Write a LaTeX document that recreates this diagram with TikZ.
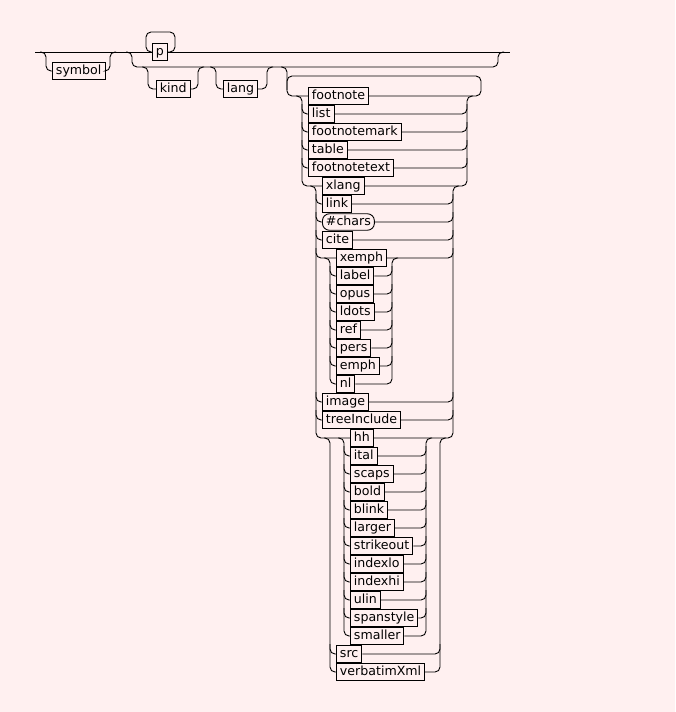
\documentclass[tikz,border=0pt]{standalone}
\usepackage{fontspec}
\setmainfont{DejaVu Sans}
\definecolor{bg}{HTML}{FFF0F0}

\begin{document}
\begin{tikzpicture}[x=1pt, y=-1pt,
    rail/.style={line width=0.9pt, rounded corners=5pt},
    elem/.style={draw, line width=0.9pt, fill=bg, anchor=west, inner xsep=3.5pt, inner ysep=2pt,
      text height=9.5pt, text depth=3pt, font=\fontsize{12.6}{14}\selectfont},
    pcdata/.style={elem, rounded corners=7pt}]
      \fill[bg] (0,0) rectangle (675,712);
      \useasboundingbox (0,0) rectangle (675,712);
      \coordinate (start) at (35,52);
      \coordinate (end) at (510,52);
      \node[elem] (symbol) at (52,71) {symbol};
      \node[elem] (p) at (152,52) {p};
      \node[elem] (kind) at (156,89) {kind};
      \node[elem] (lang) at (223,89) {lang};
      \foreach \bx/\nm/\txt/\st [count=\k from 0] in {
          308/fn/footnote/elem, 308/list/list/elem, 308/fnmark/footnotemark/elem,
          308/table/table/elem, 308/fntext/footnotetext/elem,
          322/xlang/xlang/elem, 322/link/link/elem, 322/chars/\#chars/pcdata, 322/cite/cite/elem,
          336/xemph/xemph/elem, 336/label/label/elem, 336/opus/opus/elem, 336/ldots/ldots/elem,
          336/ref/ref/elem, 336/pers/pers/elem, 336/emph/emph/elem, 336/nl/nl/elem,
          322/image/image/elem, 322/tree/treeInclude/elem,
          350/hh/hh/elem, 350/ital/ital/elem, 350/scaps/scaps/elem, 350/bold/bold/elem,
          350/blink/blink/elem, 350/larger/larger/elem, 350/strike/strikeout/elem,
          350/indexlo/indexlo/elem, 350/indexhi/indexhi/elem, 350/ulin/ulin/elem,
          350/span/spanstyle/elem, 350/smaller/smaller/elem,
          336/src/src/elem, 336/verb/verbatimXml/elem}
        \node[\st] (\nm) at (\bx,{96+18*\k}) {\txt};

      \draw[rail] (start) -- (p.west);
      \draw[rail] (p.east) -- (end);
      \draw[rail] (40,52) -| (46,71) -- (symbol.west);
      \draw[rail] (symbol.east) -| (110,52) -- (116,52);
      \draw[rail] (p.east) -| (175,32) -| (146,52) -- (p.west);
      \draw[rail] (126,52) -| (132,67) -| (498,52) -- (504,52);
      \draw[rail] (142,67) -| (148,89) -- (kind.west);
      \draw[rail] (kind.east) -| (198,67) -- (204,67);
      \draw[rail] (210,67) -| (216,89) -- (lang.west);
      \draw[rail] (lang.east) -| (267,67) -- (273,67);
      \draw[rail] (281,67) -| (287,96) -- (fn.west);
      \draw[rail] (fn.east) -| (481,76) -| (287,90);

      \draw[rail] (296,96) -| (302,186) -- (xlang.west);
      \draw[rail] (xlang.east) -| (467,96) -- (473,96);
      \draw[rail] (310,186) -| (316,438) -- (hh.west);
      \draw[rail] (hh.east) -| (453,186) -- (459,186);
      \draw[rail] (324,258) -| (330,384) -- (nl.west);
      \draw[rail] (nl.east) -| (392,258) -- (398,258);
      \draw[rail] (324,438) -| (330,672) -- (verb.west);
      \draw[rail] (verb.east) -| (440,438) -- (446,438);
      \draw[rail] (338,438) -| (344,636) -- (smaller.west);
      \draw[rail] (smaller.east) -| (426,438) -- (432,438);

      \foreach \k/\nm/\xl/\xr in {1/list/302/467, 2/fnmark/302/467, 3/table/302/467, 4/fntext/302/467,
          6/link/316/453, 7/chars/316/453, 8/cite/316/453, 9/xemph/316/453,
          10/label/330/392, 11/opus/330/392, 12/ldots/330/392, 13/ref/330/392, 14/pers/330/392,
          15/emph/330/392, 17/image/316/453, 18/tree/316/453,
          20/ital/344/426, 21/scaps/344/426, 22/bold/344/426, 23/blink/344/426, 24/larger/344/426,
          25/strike/344/426, 26/indexlo/344/426, 27/indexhi/344/426, 28/ulin/344/426,
          29/span/344/426, 31/src/330/440} {
        \draw[rail] (\xl,{96+18*\k-10}) |- (\nm.west);
        \draw[rail] (\nm.east) -| (\xr,{96+18*\k-10});
      }
\end{tikzpicture}
\end{document}
